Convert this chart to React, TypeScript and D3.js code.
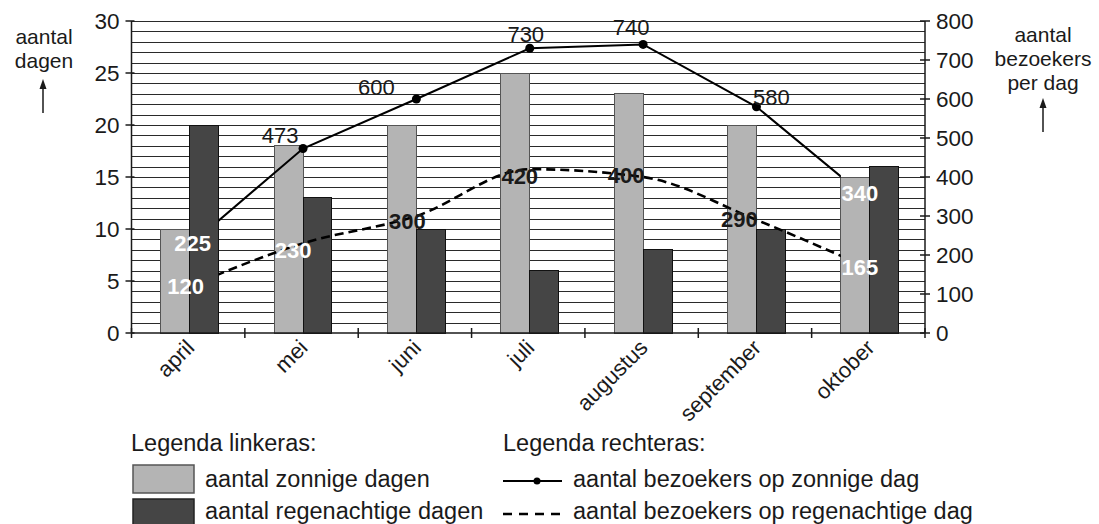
import * as d3 from 'd3';
import React, { useEffect, useRef } from 'react';

// data
const months = ['april', 'mei', 'juni', 'juli', 'augustus', 'september', 'oktober'];
const sunnyDays = [10, 18, 20, 25, 23, 20, 15];
const rainyDays = [20, 13, 10, 6, 8, 10, 16];
const visitorsSunny = [225, 473, 600, 730, 740, 580, 340];
const visitorsRainy = [120, 230, 300, 420, 400, 290, 165];
const leftTicks = [0, 5, 10, 15, 20, 25, 30];
const rightTicks = [0, 100, 200, 300, 400, 500, 600, 700, 800];

// where each value label sits relative to its point: [dx, dy, kind]
const sunnyLabelPlace: [number, number, string][] = [
  [3, 6, 'white'], [-23, -6, 'plain'], [-40, -4, 'plain'], [-4, -6, 'plain'],
  [-12, -9, 'plain'], [15, -2, 'plain'], [-10, 1, 'white'],
];
const rainyLabelPlace: [number, number, string][] = [
  [-4, 8, 'white'], [-10, 15, 'white'], [-9, 13, 'bold'], [-10, 15, 'bold'],
  [-17, 6, 'bold'], [-17, 7, 'bold'], [-10, 6.5, 'white'],
];

const W = 1099;
const H = 524;
const FONT = '"Liberation Sans", Arial, Helvetica, sans-serif';
const INK = '#1a1a1a';
const LIGHT = '#b4b4b4';
const DARK = '#454545';

export default function App() {
  const ref = useRef<SVGSVGElement>(null);

  useEffect(() => {
    const svg = d3.select(ref.current);
    svg.selectAll('*').remove();

    const left = 131.5;
    const right = 925;
    const top = 21;
    const bottom = 333;

    const x = d3.scaleBand<string>().domain(months).range([left, right]).padding(0);
    const yL = d3.scaleLinear().domain([0, 30]).range([bottom, top]);
    const yR = d3.scaleLinear().domain([0, 800]).range([bottom, top]);
    const bw = x.bandwidth() * 0.255;
    const cx = (m: string) => (x(m) as number) + x.bandwidth() / 2 + 1.5;

    const g = svg.append('g').style('font-family', FONT);

    // horizontal grid, one line per day
    g.append('g')
      .selectAll('line')
      .data(d3.range(1, 31))
      .join('line')
      .attr('x1', left)
      .attr('x2', right)
      .attr('y1', (d) => Math.round(yL(d)) + 0.5)
      .attr('y2', (d) => Math.round(yL(d)) + 0.5)
      .attr('stroke', '#2a2a2a')
      .attr('stroke-width', 1);

    // bars
    const bars = g.append('g').attr('shape-rendering', 'crispEdges');
    bars
      .selectAll('rect.sun')
      .data(months)
      .join('rect')
      .attr('class', 'sun')
      .attr('x', (m) => cx(m) - bw)
      .attr('y', (m, i) => yL(sunnyDays[i]))
      .attr('width', bw)
      .attr('height', (m, i) => bottom - yL(sunnyDays[i]))
      .attr('fill', LIGHT)
      .attr('stroke', '#555')
      .attr('stroke-width', 1);
    bars
      .selectAll('rect.rain')
      .data(months)
      .join('rect')
      .attr('class', 'rain')
      .attr('x', (m) => cx(m))
      .attr('y', (m, i) => yL(rainyDays[i]))
      .attr('width', bw)
      .attr('height', (m, i) => bottom - yL(rainyDays[i]))
      .attr('fill', DARK)
      .attr('stroke', '#111')
      .attr('stroke-width', 1);

    // lines, clipped between first dark bar and last light bar
    const clipLeft = cx(months[0]) + bw;
    const clipRight = cx(months[months.length - 1]) - bw;
    svg
      .append('defs')
      .append('clipPath')
      .attr('id', 'lineclip')
      .append('rect')
      .attr('x', clipLeft)
      .attr('y', 0)
      .attr('width', clipRight - clipLeft)
      .attr('height', H);

    const lines = g.append('g').attr('clip-path', 'url(#lineclip)');
    const sunLine = d3
      .line<number>()
      .x((d, i) => cx(months[i]))
      .y((d) => yR(d));
    const rainLine = d3
      .line<number>()
      .x((d, i) => cx(months[i]))
      .y((d) => yR(d))
      .curve(d3.curveMonotoneX);

    lines
      .append('path')
      .attr('d', rainLine(visitorsRainy))
      .attr('fill', 'none')
      .attr('stroke', '#000')
      .attr('stroke-width', 2.6)
      .attr('stroke-dasharray', '9 5');
    lines
      .append('path')
      .attr('d', sunLine(visitorsSunny))
      .attr('fill', 'none')
      .attr('stroke', '#000')
      .attr('stroke-width', 2);
    lines
      .selectAll('circle')
      .data(visitorsSunny)
      .join('circle')
      .attr('cx', (d, i) => cx(months[i]))
      .attr('cy', (d) => yR(d))
      .attr('r', 4.5)
      .attr('fill', '#000');

    // value labels
    const labelStyle = (sel: any, kind: string) =>
      sel
        .attr('fill', kind === 'white' ? '#fff' : INK)
        .attr('font-weight', kind === 'plain' ? 'normal' : 'bold')
        .attr('font-size', 22)
        .attr('text-anchor', 'middle');

    visitorsSunny.forEach((v, i) => {
      const [dx, dy, kind] = sunnyLabelPlace[i];
      g.append('text')
        .attr('x', cx(months[i]) + dx)
        .attr('y', yR(v) + dy)
        .call(labelStyle, kind)
        .text(v);
    });
    visitorsRainy.forEach((v, i) => {
      const [dx, dy, kind] = rainyLabelPlace[i];
      g.append('text')
        .attr('x', cx(months[i]) + dx)
        .attr('y', yR(v) + dy)
        .call(labelStyle, kind)
        .text(v);
    });

    // axes
    const axisG = g.append('g').attr('stroke', INK).attr('stroke-width', 1.5);
    axisG.append('line').attr('x1', left).attr('x2', left).attr('y1', top).attr('y2', bottom);
    axisG.append('line').attr('x1', right).attr('x2', right).attr('y1', top).attr('y2', bottom);
    axisG.append('line').attr('x1', left).attr('x2', right).attr('y1', bottom).attr('y2', bottom);

    leftTicks.forEach((t) => {
      axisG.append('line').attr('x1', left - 6).attr('x2', left + 3).attr('y1', yL(t)).attr('y2', yL(t));
      g.append('text')
        .attr('x', left - 12)
        .attr('y', yL(t))
        .attr('dy', '0.36em')
        .attr('text-anchor', 'end')
        .attr('font-size', 22.5)
        .attr('fill', INK)
        .text(t);
    });
    rightTicks.forEach((t) => {
      axisG.append('line').attr('x1', right - 5).attr('x2', right + 5).attr('y1', yR(t)).attr('y2', yR(t));
      g.append('text')
        .attr('x', right + 11)
        .attr('y', yR(t))
        .attr('dy', '0.36em')
        .attr('text-anchor', 'start')
        .attr('font-size', 22.5)
        .attr('fill', INK)
        .text(t);
    });
    d3.range(months.length + 1).forEach((i) => {
      const tx = left + i * x.bandwidth();
      axisG.append('line').attr('x1', tx).attr('x2', tx).attr('y1', bottom - 5).attr('y2', bottom + 5);
    });
    months.forEach((m) => {
      const px = cx(m) + 6;
      const py = 349;
      g.append('text')
        .attr('transform', `translate(${px},${py}) rotate(-45)`)
        .attr('text-anchor', 'end')
        .attr('font-size', 22)
        .attr('fill', INK)
        .text(m);
    });

    // axis titles with arrows
    const arrow = (ax: number, y1: number, y2: number) => {
      g.append('line').attr('x1', ax).attr('x2', ax).attr('y1', y1).attr('y2', y2 + 6).attr('stroke', INK).attr('stroke-width', 1.5);
      g.append('path')
        .attr('d', `M${ax},${y2} L${ax - 3.5},${y2 + 10} L${ax + 3.5},${y2 + 10} Z`)
        .attr('fill', INK);
    };
    const title = (tx: number, rows: string[], baselines: number[]) =>
      rows.forEach((r, i) =>
        g.append('text').attr('x', tx).attr('y', baselines[i]).attr('text-anchor', 'middle').attr('font-size', 21).attr('fill', INK).text(r)
      );
    title(44, ['aantal', 'dagen'], [44, 68]);
    arrow(43, 113, 79);
    title(1043, ['aantal', 'bezoekers', 'per dag'], [42, 66, 90]);
    arrow(1043, 132, 98);

    // legend
    const lg = g.append('g').attr('font-size', 23.5).attr('fill', INK);
    lg.append('text').attr('x', 131).attr('y', 451).text('Legenda linkeras:');
    lg.append('text').attr('x', 503).attr('y', 451).text('Legenda rechteras:');
    lg.append('rect').attr('x', 133).attr('y', 465).attr('width', 61).attr('height', 28).attr('fill', LIGHT).attr('stroke', '#555').attr('stroke-width', 1.5);
    lg.append('rect').attr('x', 133).attr('y', 499).attr('width', 61).attr('height', 28).attr('fill', DARK).attr('stroke', '#222').attr('stroke-width', 1.5);
    lg.append('text').attr('x', 205).attr('y', 487).text('aantal zonnige dagen');
    lg.append('text').attr('x', 205).attr('y', 519).text('aantal regenachtige dagen');
    lg.append('line').attr('x1', 503).attr('x2', 562).attr('y1', 481).attr('y2', 481).attr('stroke', '#000').attr('stroke-width', 2);
    lg.append('circle').attr('cx', 537).attr('cy', 481).attr('r', 3.5).attr('fill', '#000');
    lg.append('line').attr('x1', 503).attr('x2', 562).attr('y1', 514).attr('y2', 514).attr('stroke', '#000').attr('stroke-width', 2.6).attr('stroke-dasharray', '9 7');
    lg.append('text').attr('x', 573).attr('y', 487).text('aantal bezoekers op zonnige dag');
    lg.append('text').attr('x', 573).attr('y', 519).text('aantal bezoekers op regenachtige dag');
  }, []);

  return (
    <svg
      ref={ref}
      width={W}
      height={H}
      style={{ position: 'absolute', left: 0, top: 0, background: '#fff', display: 'block' }}
    />
  );
}
